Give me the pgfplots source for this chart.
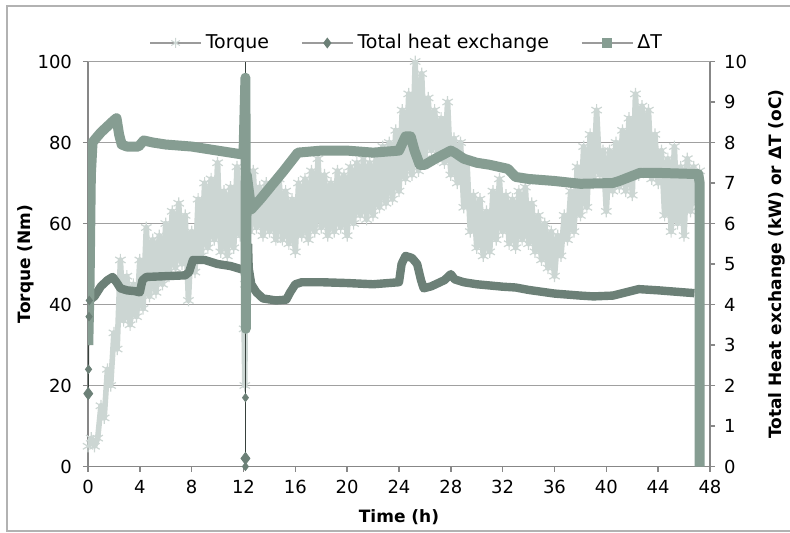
\documentclass[border=0pt]{standalone}
\usepackage{fontspec}
\setmainfont{DejaVu Sans}
\usepackage{pgfplots}
\usepackage{pgfplotstable}
\pgfplotsset{compat=1.18}
\definecolor{torq}{RGB}{204,214,211}
\definecolor{heat}{RGB}{108,128,119}
\definecolor{dT}{RGB}{134,157,146}
\definecolor{axgray}{RGB}{135,135,135}
\definecolor{gridgray}{RGB}{160,160,160}
\definecolor{legline}{RGB}{155,155,155}
\definecolor{thinline}{RGB}{55,65,60}

\pgfplotstableread{
t v
0 5
0.25 7
0.5 5
0.75 7
1.0 15
1.25 12
1.5 24
1.75 20
2.0 33
2.25 29
2.5 51
2.75 36
3.0 47
3.25 35
3.5 45
3.75 37
4.0 51
4.25 39
4.5 59
4.75 42
5.0 56
5.25 43
5.5 57
5.75 45
6.0 60
6.25 47
6.5 63
6.75 49
7.0 65
7.25 50
7.5 62
7.75 41
8.0 58
8.25 48
8.5 66
8.75 52
9.0 70
9.25 54
9.5 71
9.75 56
10.0 75
10.25 53
10.5 68
10.75 52
11.0 69
11.25 54
11.5 74
11.75 57
12.0 70
12.05 34
12.1 20
12.15 45
12.25 72
12.5 58
12.75 73
13.0 59
13.25 69
13.5 57
13.75 70
14.0 58
14.25 68
14.5 56
14.75 71
15.0 56
15.25 68
15.5 55
15.75 66
16.0 53
16.25 70
16.5 57
16.75 71
17.0 56
17.25 73
17.5 58
17.75 76
18.0 59
18.25 72
18.5 57
18.75 70
19.0 58
19.25 73
19.5 59
19.75 72
20.0 57
20.25 74
20.5 60
20.75 75
21.0 62
21.25 76
21.5 61
21.75 75
22.0 62
22.25 77
22.5 64
22.75 79
23.0 65
23.25 80
23.5 66
23.75 83
24.0 68
24.25 88
24.5 71
24.75 92
25.0 72
25.25 100
25.5 73
25.75 97
26.0 76
26.25 91
26.5 78
26.75 88
27.0 76
27.25 86
27.5 75
27.75 90
28.0 72
28.25 81
28.5 70
28.75 80
29.0 64
29.25 75
29.5 58
29.75 67
30.0 54
30.25 66
30.5 52
30.75 63
31.0 53
31.25 68
31.5 56
31.75 71
32.0 58
32.25 67
32.5 55
32.75 66
33.0 54
33.25 68
33.5 56
33.75 69
34.0 55
34.25 65
34.5 53
34.75 62
35.0 51
35.25 60
35.5 49
35.75 58
36.0 47
36.25 57
36.5 52
36.75 62
37.0 56
37.25 68
37.5 58
37.75 74
38.0 62
38.25 79
38.5 64
38.75 82
39.0 70
39.25 88
39.5 72
39.75 78
40.0 63
40.25 78
40.5 68
40.75 80
41.0 69
41.25 83
41.5 68
41.75 86
42.0 67
42.25 92
42.5 72
42.75 89
43.0 73
43.25 88
43.5 71
43.75 82
44.0 70
44.25 78
44.5 62
44.75 76
45.0 58
45.25 79
45.5 60
45.75 74
46.0 57
46.25 76
46.5 63
46.75 74
47.0 65
47.2 73
}\torquedata

\pgfplotstableread{
t v
0.02 3.0
0.12 4.5
0.22 7.2
0.35 8.0
0.6 8.1
1.0 8.25
1.5 8.4
2.0 8.55
2.2 8.6
2.4 8.2
2.6 7.95
3.0 7.9
3.9 7.9
4.3 8.05
5.0 8.0
6.0 7.95
8.0 7.9
10.0 7.8
11.0 7.75
12.0 7.7
12.15 9.6
12.18 3.4
12.25 7.2
12.6 6.35
13.3 6.6
15.1 7.3
16.2 7.75
18.0 7.8
20.0 7.8
22.0 7.75
24.0 7.8
24.5 8.15
24.9 8.15
25.2 7.8
25.6 7.45
26.0 7.45
26.8 7.6
28.0 7.8
28.3 7.75
29.0 7.6
30.0 7.5
31.0 7.45
32.4 7.35
33.0 7.15
34.0 7.1
36.0 7.05
38.0 6.98
40.5 7.0
41.0 7.05
42.6 7.25
44.0 7.25
47.1 7.22
47.2 7.0
47.2 0
}\dTdata

\pgfplotstableread{
t v
0.1 4.1
0.5 4.2
1.0 4.45
1.5 4.6
1.9 4.68
2.2 4.55
2.5 4.4
3.0 4.35
3.6 4.33
4.0 4.3
4.2 4.6
4.5 4.68
6.0 4.7
7.5 4.72
7.8 4.8
8.1 5.1
9.0 5.1
10.0 5.0
11.0 4.95
12.05 4.85
}\heatA

\pgfplotstableread{
t v
12.35 5.5
12.4 4.9
12.6 4.5
13.0 4.3
13.5 4.15
14.5 4.1
15.3 4.12
15.6 4.3
16.0 4.5
16.5 4.55
18.0 4.55
20.0 4.53
22.0 4.5
24.0 4.55
24.2 5.0
24.5 5.2
25.0 5.15
25.4 5.0
25.7 4.6
25.9 4.4
26.5 4.45
27.5 4.6
28.0 4.75
28.3 4.62
29.0 4.55
30.0 4.5
31.0 4.47
32.0 4.44
33.0 4.42
34.0 4.36
36.0 4.27
38.0 4.22
39.0 4.2
40.5 4.22
41.5 4.3
42.5 4.38
44.0 4.35
46.8 4.28
}\heatB

\begin{document}
\begin{tikzpicture}
\pgfplotsset{
  common/.style={
    scale only axis, width=311pt, height=202.5pt,
    at={(0,0)}, anchor=south west,
    xmin=0, xmax=48,
    tick align=outside, major tick length=2.5pt,
    tick style={axgray, line width=0.75pt},
    axis line style={axgray, line width=0.75pt},
    /pgf/number format/assume math mode=true,
    tick label style={font=\fontsize{9}{10}\selectfont},
    label style={font=\fontsize{8.5}{10}\selectfont\bfseries},
  }
}
\begin{axis}[common,
  ymin=0, ymax=100,
  axis x line*=bottom, axis y line*=left,
  xtick={0,4,...,48}, ytick={0,20,...,100},
  ymajorgrids, grid style={gridgray, line width=0.65pt},
  xlabel={Time (h)}, ylabel={Torque (Nm)},
  xlabel style={at={(axis description cs:0.5,-0.1247)}, anchor=center},
  ylabel style={at={(axis description cs:-0.0997,0.5)}, anchor=center},
  yticklabel style={xshift=-2pt},
  xticklabel style={yshift=-1pt},
]
\addplot[torq, line width=2.8pt, line join=round, mark=asterisk, mark size=3pt, mark options={torq, line width=0.6pt}] table[x=t,y=v] {\torquedata};
\end{axis}

\begin{axis}[common,
  ymin=0, ymax=10,
  axis y line*=right, axis x line=none,
  ytick={0,1,...,10},
  ylabel={Total Heat exchange (kW) or ΔT (oC)},
  ylabel style={at={(axis description cs:1.107,0.5)}, anchor=center},
  yticklabel style={xshift=1pt},
  legend style={at={(0.514,1.0457)}, anchor=center, draw=none, fill=none,
    font=\fontsize{9.5}{11}\selectfont,
    /tikz/every even column/.append style={column sep=14pt}},
  legend columns=3,
  legend image code/.code={\draw[mark repeat=2, mark phase=2, #1] plot coordinates {(0pt,0pt) (12.75pt,0pt) (25.5pt,0pt)};},
]
\addlegendimage{legline, line width=0.7pt, mark=asterisk, mark size=2.5pt, mark options={torq, line width=0.5pt}}
\addlegendentry{Torque}
\addlegendimage{legline, line width=0.7pt, mark=diamond*, mark size=2.2pt, mark options={heat}}
\addlegendentry{Total heat exchange}
\addlegendimage{legline, line width=0.7pt, mark=square*, mark size=2.2pt, mark options={dT}}
\addlegendentry{ΔT}

% thin connector at t = 12.15
\addplot[thinline, line width=0.5pt, forget plot] coordinates {(12.15,0) (12.15,10)};
% heat start
\addplot[thinline, line width=0.5pt, mark=diamond*, mark size=2pt, mark options={heat}, forget plot] coordinates {(0.02,1.8) (0.04,2.4) (0.08,3.7) (0.1,4.1)};
\addplot[heat, only marks, mark=diamond*, mark size=3pt, forget plot] coordinates {(0.02,1.8) (12.15,0.2)};
\addplot[heat, only marks, mark=diamond*, mark size=2pt, forget plot] coordinates {(12.15,0) (12.15,1.7)};
\addplot[heat, line width=4.2pt, line join=round, forget plot] table[x=t,y=v] {\heatA};
\addplot[heat, line width=4.2pt, line join=round, forget plot] table[x=t,y=v] {\heatB};
\addplot[dT, line width=5pt, line join=round, forget plot] table[x=t,y=v] {\dTdata};
\end{axis}

\draw[gray!60, line width=0.75pt] (-40.5pt,-32.25pt) rectangle (360pt,230.25pt);
\pgfresetboundingbox
\useasboundingbox (-44pt,-32.75pt) rectangle (351pt,233.25pt);
\end{tikzpicture}
\end{document}
